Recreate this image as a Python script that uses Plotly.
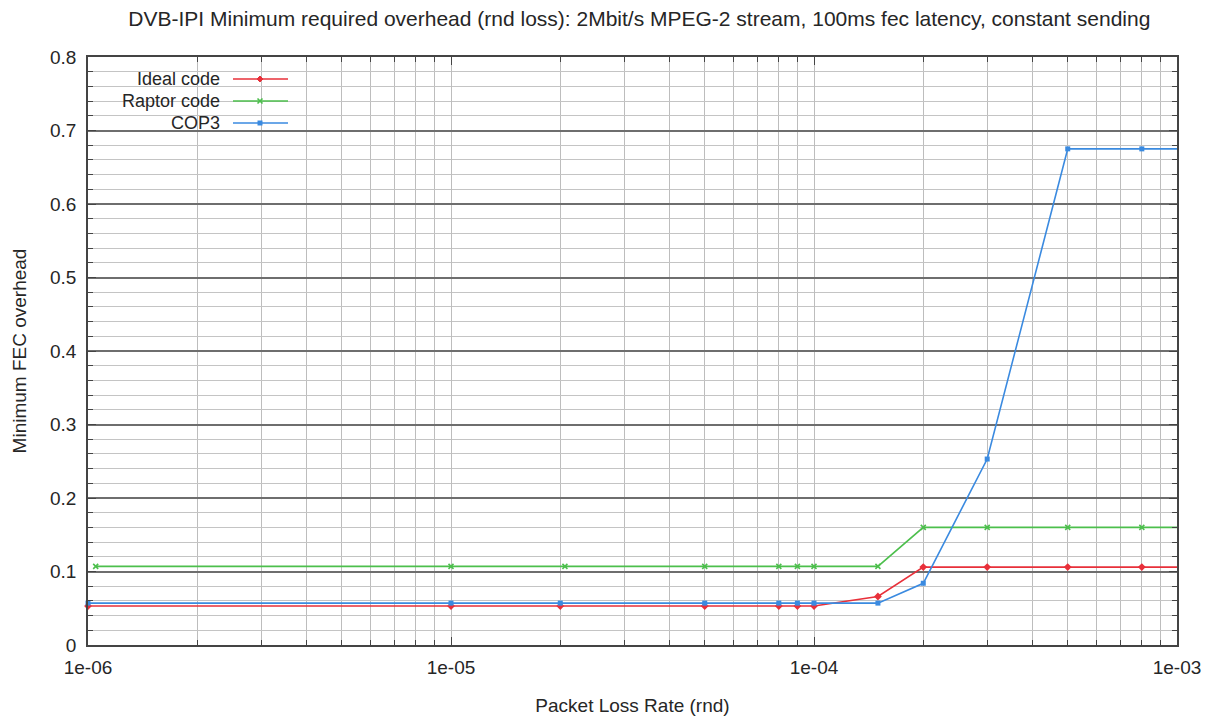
import plotly.graph_objects as go

# Packet loss rates (x) and minimum FEC overhead (y) per code
ideal_x = [1e-6, 1e-5, 2e-5, 5e-5, 8e-5, 9e-5, 1e-4, 1.5e-4, 2e-4, 3e-4, 5e-4, 8e-4, 1e-3]
ideal_y = [0.053, 0.053, 0.053, 0.053, 0.053, 0.053, 0.053, 0.066, 0.106, 0.106, 0.106, 0.106, 0.106]

raptor_x = [1.05e-6, 1e-5, 2.06e-5, 5e-5, 8e-5, 9e-5, 1e-4, 1.5e-4, 2e-4, 3e-4, 5e-4, 8e-4, 1e-3]
raptor_y = [0.107, 0.107, 0.107, 0.107, 0.107, 0.107, 0.107, 0.107, 0.160, 0.160, 0.160, 0.160, 0.160]

cop3_x = [1e-6, 1e-5, 2e-5, 5e-5, 8e-5, 9e-5, 1e-4, 1.5e-4, 2e-4, 3e-4, 5e-4, 8e-4, 1e-3]
cop3_y = [0.057, 0.057, 0.057, 0.057, 0.057, 0.057, 0.057, 0.057, 0.084, 0.253, 0.675, 0.675, 0.675]

x_tickvals = [1e-6, 1e-5, 1e-4, 1e-3]
x_ticktext = ["1e-06", "1e-05", "1e-04", "1e-03"]
y_tickvals = [0, 0.1, 0.2, 0.3, 0.4, 0.5, 0.6, 0.7, 0.8]
y_ticktext = ["0", "0.1", "0.2", "0.3", "0.4", "0.5", "0.6", "0.7", "0.8"]

series_names = ["Ideal code", "Raptor code", "COP3"]
series_colors = ["#e8303a", "#4cbf4c", "#3a8ae0"]

FONT = "Liberation Sans, Arial, sans-serif"
TEXT = "#262626"

W, H = 1213, 718
L, R, T, B = 88, 36, 57, 73

# minor log gridlines at 2..9 of each decade
minor_x = [m * d for d in (1e-6, 1e-5, 1e-4) for m in range(2, 10)]

fig = go.Figure()

fig.add_trace(go.Scatter(
    x=ideal_x, y=ideal_y, mode="lines+markers", name=series_names[0],
    line=dict(color=series_colors[0], width=1.6),
    marker=dict(symbol="diamond", size=6, color=series_colors[0]),
    showlegend=False, cliponaxis=False))
fig.add_trace(go.Scatter(
    x=raptor_x, y=raptor_y, mode="lines+markers", name=series_names[1],
    line=dict(color=series_colors[1], width=1.6),
    marker=dict(symbol="x-thin", size=5, color=series_colors[1],
                line=dict(color=series_colors[1], width=1.6)),
    showlegend=False, cliponaxis=False))
fig.add_trace(go.Scatter(
    x=cop3_x, y=cop3_y, mode="lines+markers", name=series_names[2],
    line=dict(color=series_colors[2], width=1.6),
    marker=dict(symbol="square", size=5, color=series_colors[2]),
    showlegend=False, cliponaxis=False))

pw = W - L - R
ph = H - T - B


def px_x(p):
    return (p - L) / pw


def px_y(p):
    return (H - B - p) / ph


# key box in the top-left corner, hiding the gridlines behind it
shapes = [dict(type="rect", xref="paper", yref="paper",
               x0=px_x(L + 1), x1=px_x(300), y0=px_y(140), y1=px_y(T + 1),
               fillcolor="white", line=dict(width=0), layer="between")]
annotations = []
key_rows = [79, 101, 123]
for i, (name, col) in enumerate(zip(series_names, series_colors)):
    yy = px_y(key_rows[i])
    annotations.append(dict(
        xref="paper", yref="paper", x=px_x(222), y=yy, text=name,
        showarrow=False, xanchor="right", yanchor="middle",
        font=dict(family=FONT, size=18, color=TEXT)))
    shapes.append(dict(type="line", xref="paper", yref="paper",
                       x0=px_x(233), x1=px_x(288), y0=yy, y1=yy,
                       line=dict(color=col, width=1.6), layer="above"))
    # small glyph in the middle of each key line
    cx, cy = 260, key_rows[i]
    if i == 0:
        shapes.append(dict(type="path", xref="paper", yref="paper",
                           path=f"M {px_x(cx-3)} {px_y(cy)} L {px_x(cx)} {px_y(cy-3)} "
                                f"L {px_x(cx+3)} {px_y(cy)} L {px_x(cx)} {px_y(cy+3)} Z",
                           fillcolor=col, line=dict(color=col, width=1), layer="above"))
    elif i == 1:
        for dx in (-1, 1):
            shapes.append(dict(type="line", xref="paper", yref="paper",
                               x0=px_x(cx - 2.5), x1=px_x(cx + 2.5),
                               y0=px_y(cy - 2.5 * dx), y1=px_y(cy + 2.5 * dx),
                               line=dict(color=col, width=1.6), layer="above"))
    else:
        shapes.append(dict(type="rect", xref="paper", yref="paper",
                           x0=px_x(cx - 2.5), x1=px_x(cx + 2.5),
                           y0=px_y(cy + 2.5), y1=px_y(cy - 2.5),
                           fillcolor=col, line=dict(width=0), layer="above"))

fig.update_layout(
    width=W, height=H,
    margin=dict(l=L, r=R, t=T, b=B),
    paper_bgcolor="white", plot_bgcolor="white",
    font=dict(family=FONT, size=18, color=TEXT),
    title=dict(
        text="DVB-IPI Minimum required overhead (rnd loss): 2Mbit/s MPEG-2 stream, 100ms fec latency, constant sending",
        x=(662 - L) / pw, xanchor="center", y=1 - 19 / H, yanchor="middle",
        font=dict(family=FONT, size=21, color=TEXT)),
    xaxis=dict(
        type="log", range=[-6, -3], automargin=False,
        tickvals=x_tickvals, ticktext=x_ticktext,
        ticks="inside", ticklen=8, tickcolor="#444", tickwidth=1,
        showline=True, linecolor="#444", linewidth=1.5, mirror="allticks",
        showgrid=True, gridcolor="#bdbdbd", gridwidth=1,
        minor=dict(tickvals=minor_x, ticks="inside", ticklen=5, tickcolor="#444",
                   showgrid=True, gridcolor="#bdbdbd", gridwidth=1),
        zeroline=False, ticklabelstandoff=4,
        tickfont=dict(family=FONT, size=19, color=TEXT),
        title=dict(text="Packet Loss Rate (rnd)", standoff=22,
                   font=dict(family=FONT, size=19, color=TEXT)),
    ),
    yaxis=dict(
        range=[0, 0.8], automargin=False,
        tickvals=y_tickvals, ticktext=y_ticktext,
        ticks="inside", ticklen=8, tickcolor="#444", tickwidth=1,
        showline=True, linecolor="#444", linewidth=1.5, mirror="allticks",
        showgrid=True, gridcolor="#6e6e6e", gridwidth=1.5,
        minor=dict(dtick=0.02, tick0=0, ticks="inside", ticklen=5, tickcolor="#444",
                   showgrid=True, gridcolor="#c4c4c4", gridwidth=1),
        zeroline=False, ticklabelstandoff=6,
        tickfont=dict(family=FONT, size=19, color=TEXT),
        title=dict(text="Minimum FEC overhead", standoff=18,
                   font=dict(family=FONT, size=19, color=TEXT)),
    ),
    shapes=shapes,
    annotations=annotations,
)

fig.write_html("out.html")
